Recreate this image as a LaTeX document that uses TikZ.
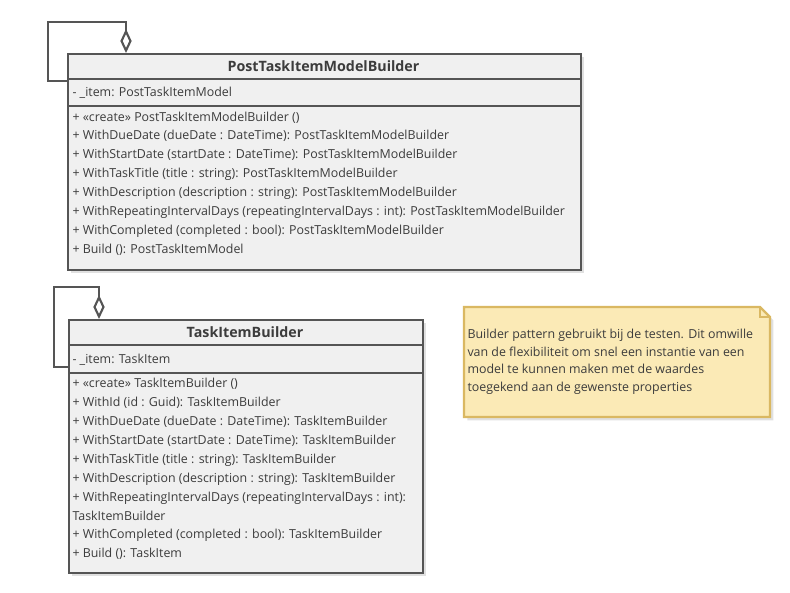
\documentclass[tikz,border=0pt]{standalone}
\usepackage{fontspec}
\setmainfont{Open Sans}
\usetikzlibrary{arrows.meta,shadows}
\definecolor{umlline}{RGB}{85,85,85}
\definecolor{umlfill}{RGB}{240,240,240}
\definecolor{umltext}{RGB}{60,60,60}
\definecolor{notefill}{RGB}{251,234,182}
\definecolor{noteline}{RGB}{218,184,98}
\tikzset{every picture/.style={line width=0.75pt}}

\begin{document}
\begin{tikzpicture}[x=0.75pt,y=0.75pt,yscale=-1,xscale=1,
  classbox/.style={draw=umlline, fill=umlfill, line width=1.6pt, inner sep=0pt, anchor=north west,
    drop shadow={shadow xshift=2.5pt, shadow yshift=-2.5pt, opacity=0.12, fill=black}},
  divider/.style={draw=umlline, line width=1.6pt},
  classname/.style={inner sep=0pt, anchor=base, text=umltext, font=\fontsize{10.7}{12}\selectfont\bfseries},
  member/.style={inner sep=0pt, anchor=base west, text=umltext, font=\fontsize{9.3}{11}\selectfont},
  selfaggr/.style={draw=umlline, line width=1.6pt, -{Diamond[open, length=18pt, width=8.5pt, line width=1.6pt]}},
]
\useasboundingbox (0,0) rectangle (790,593);

%Shape: Class [id:PostTaskItemModelBuilder]
\node[classbox, minimum width=384.75pt, minimum height=162pt] (ptimb) at (67,53) {};
\draw[divider] (ptimb.west |- 0,79) -- (ptimb.east |- 0,79) ;
\draw[divider] (ptimb.west |- 0,106) -- (ptimb.east |- 0,106) ;
%Shape: Class [id:TaskItemBuilder]
\node[classbox, minimum width=265.5pt, minimum height=189.75pt] (tib) at (68,319) {};
\draw[divider] (tib.west |- 0,345) -- (tib.east |- 0,345) ;
\draw[divider] (tib.west |- 0,373) -- (tib.east |- 0,373) ;

%Self Aggregation Lines
\coordinate (ptimbIn) at (67,81) ;
\coordinate (ptimbOut) at (126,53) ;
\draw[selfaggr] (ptimbIn) -- ++(-19,0) -- ++(0,-59) -| (ptimbOut) ;
\coordinate (tibIn) at (68,367) ;
\coordinate (tibOut) at (99,319) ;
\draw[selfaggr] (tibIn) -- ++(-14,0) -- ++(0,-80) -| (tibOut) ;

%Shape: Note [id:builderNote]
\draw[draw=noteline, fill=notefill, line width=1.6pt,
  drop shadow={shadow xshift=2.5pt, shadow yshift=-2.5pt, opacity=0.12, fill=black}]
  (464,307) -- (760,307) -- (770,317) -- (770,417) -- (464,417) -- cycle ;
\draw[draw=noteline, line width=1pt] (760,307) -- (760,317) -- (770,317) ;

% Text Node
\node[classname] (ptimbName) at (323.5,71) {PostTaskItemModelBuilder};
% Text Node
\node[member] (ptimbItem) at (72,96) {- \_item: PostTaskItemModel};
% Text Node
\node[member] (ptimbCreate) at (72,121) {+ «create» PostTaskItemModelBuilder ()};
% Text Node
\node[member] (ptimbDue) at (72,139.9) {+ WithDueDate (dueDate : DateTime): PostTaskItemModelBuilder};
% Text Node
\node[member] (ptimbStart) at (72,158.8) {+ WithStartDate (startDate : DateTime): PostTaskItemModelBuilder};
% Text Node
\node[member] (ptimbTitle) at (72,177.7) {+ WithTaskTitle (title : string): PostTaskItemModelBuilder};
% Text Node
\node[member] (ptimbDesc) at (72,196.6) {+ WithDescription (description : string): PostTaskItemModelBuilder};
% Text Node
\node[member] (ptimbRep) at (72,215.5) {+ WithRepeatingIntervalDays (repeatingIntervalDays : int): PostTaskItemModelBuilder};
% Text Node
\node[member] (ptimbDone) at (72,234.4) {+ WithCompleted (completed : bool): PostTaskItemModelBuilder};
% Text Node
\node[member] (ptimbBuild) at (72,253.3) {+ Build (): PostTaskItemModel};

% Text Node
\node[classname] (tibName) at (245,337) {TaskItemBuilder};
% Text Node
\node[member] (tibItem) at (72,363) {- \_item: TaskItem};
% Text Node
\node[member] (tibCreate) at (72,387) {+ «create» TaskItemBuilder ()};
% Text Node
\node[member] (tibId) at (72,406) {+ WithId (id : Guid): TaskItemBuilder};
% Text Node
\node[member] (tibDue) at (72,425) {+ WithDueDate (dueDate : DateTime): TaskItemBuilder};
% Text Node
\node[member] (tibStart) at (72,444) {+ WithStartDate (startDate : DateTime): TaskItemBuilder};
% Text Node
\node[member] (tibTitle) at (72,463) {+ WithTaskTitle (title : string): TaskItemBuilder};
% Text Node
\node[member] (tibDesc) at (72,482) {+ WithDescription (description : string): TaskItemBuilder};
% Text Node
\node[member] (tibRep) at (72,501) {+ WithRepeatingIntervalDays (repeatingIntervalDays : int):};
% Text Node
\node[member] (tibRepType) at (72,520) {TaskItemBuilder};
% Text Node
\node[member] (tibDone) at (72,538) {+ WithCompleted (completed : bool): TaskItemBuilder};
% Text Node
\node[member] (tibBuild) at (72,557) {+ Build (): TaskItem};

% Text Node
\node[member, anchor=north west, align=left, font=\fontsize{9.3}{13.05}\selectfont] (noteText) at (467,329)
  {Builder pattern gebruikt bij de testen. Dit omwille\\van de flexibiliteit om snel een instantie van een\\model te kunnen maken met de waardes\\toegekend aan de gewenste properties};

\end{tikzpicture}
\end{document}
